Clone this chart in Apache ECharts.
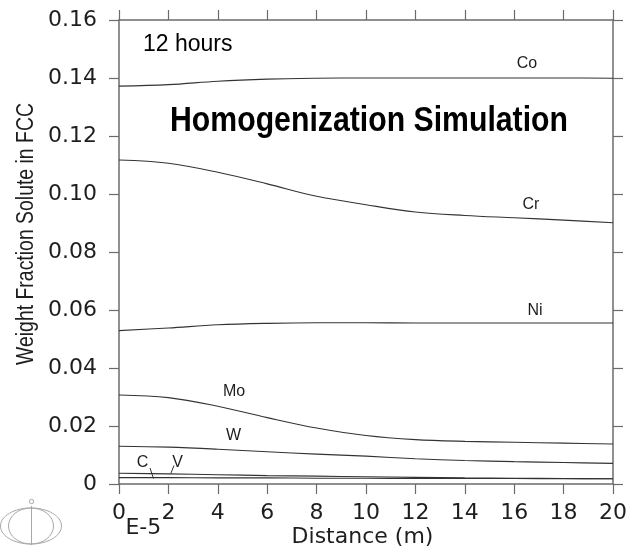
<!DOCTYPE html>
<html>
<head>
<meta charset="utf-8">
<script src="https://cdn.jsdelivr.net/npm/echarts@6/dist/echarts.min.js"></script>
<style>
  html, body { margin: 0; padding: 0; background: #fff; }
  #chart { width: 630px; height: 558px; }
</style>
</head>
<body>
<div id="chart"></div>
<script>
// Distance along the sample (units of 1e-5 m)
const distance = [0, 2, 4, 6, 8, 10, 12, 14, 16, 18, 20];

// Weight fraction of each solute in FCC after 12 hours
const co = [0.1372, 0.1377, 0.1389, 0.1396, 0.1399, 0.1400, 0.1400, 0.1400, 0.1400, 0.1400, 0.1399];
const cr = [0.1117, 0.1106, 0.1075, 0.1035, 0.0992, 0.0963, 0.0938, 0.0926, 0.0918, 0.0910, 0.0901];
const ni = [0.0529, 0.0538, 0.0549, 0.0554, 0.0556, 0.0556, 0.0555, 0.0555, 0.0555, 0.0555, 0.0555];
const mo = [0.0307, 0.0298, 0.0268, 0.0229, 0.0193, 0.0167, 0.0153, 0.0147, 0.0144, 0.0141, 0.0138];
const w  = [0.0130, 0.0127, 0.0120, 0.0111, 0.0103, 0.0096, 0.0087, 0.0081, 0.0077, 0.0074, 0.0071];
const v  = [0.0037, 0.0035, 0.0032, 0.0029, 0.0027, 0.0025, 0.0023, 0.0021, 0.0020, 0.0019, 0.0018];
const c  = [0.0022, 0.0022, 0.0021, 0.0021, 0.0020, 0.0020, 0.0019, 0.0019, 0.0019, 0.0018, 0.0018];

const elements = [
  { name: 'Co', values: co },
  { name: 'Cr', values: cr },
  { name: 'Ni', values: ni },
  { name: 'Mo', values: mo },
  { name: 'W',  values: w },
  { name: 'V',  values: v },
  { name: 'C',  values: c }
];

const axisColor = '#6b6b6b';
const textColor = '#1e1e1e';
const numFont = 'DejaVu Sans';
const sansFont = '"Liberation Sans", Arial, sans-serif';

// Horizontal squeeze factor so a string set in a regular sans face
// takes the width of a condensed face.
const measureCtx = document.createElement('canvas').getContext('2d');
function squeeze(text, font, targetWidth) {
  measureCtx.font = font;
  const wdt = measureCtx.measureText(text).width;
  return wdt > 0 ? Math.min(1, targetWidth / wdt) : 1;
}

function frameAxis(position, showLabels, extra) {
  return Object.assign({
    type: 'value',
    position: position,
    axisLine: { show: true, onZero: false, lineStyle: { color: axisColor, width: 1.5 } },
    axisTick: { show: true, inside: false, length: 10, lineStyle: { color: axisColor, width: 1.2 } },
    axisLabel: { show: showLabels, fontFamily: numFont, fontSize: 22, color: textColor },
    splitLine: { show: false }
  }, extra);
}

const chart = echarts.init(document.getElementById('chart'), null, { renderer: 'canvas' });

const elementLabel = (text, x, y) => ({
  type: 'text', x: x, y: y,
  style: { text: text, fontFamily: sansFont, fontSize: 16, fill: textColor, align: 'center', verticalAlign: 'middle' }
});

const titleText = 'Homogenization Simulation';
const titleScale = squeeze(titleText, 'bold 35px "Liberation Sans"', 398);
const yNameText = 'Weight Fraction Solute in FCC';
const yNameScale = squeeze(yNameText, '23.5px "Liberation Sans"', 262);

chart.setOption({
  backgroundColor: '#ffffff',
  animation: false,
  grid: { left: 119, right: 17, top: 20, bottom: 74, containLabel: false },
  xAxis: [
    frameAxis('bottom', true, { min: 0, max: 20, interval: 2,
      axisLabel: { show: true, fontFamily: numFont, fontSize: 22, color: textColor, margin: 18 } }),
    frameAxis('top', false, { min: 0, max: 20, interval: 2 })
  ],
  yAxis: [
    frameAxis('left', true, { min: 0, max: 0.16, interval: 0.02,
      axisLabel: { show: true, fontFamily: numFont, fontSize: 22, color: textColor, margin: 22,
        formatter: val => (val === 0 ? '0' : val.toFixed(2)) } }),
    frameAxis('right', false, { min: 0, max: 0.16, interval: 0.02 })
  ],
  series: elements.map(el => ({
    name: el.name,
    type: 'line',
    xAxisIndex: 0,
    yAxisIndex: 0,
    data: distance.map((d, i) => [d, el.values[i]]),
    showSymbol: false,
    smooth: 0.35,
    lineStyle: { color: '#333333', width: 1.1 },
    silent: true
  })),
  graphic: [
    { type: 'text', x: 369, y: 121, scaleX: titleScale,
      style: { text: titleText, fontFamily: sansFont, fontWeight: 'bold', fontSize: 35,
        fill: '#000', align: 'center', verticalAlign: 'middle' } },
    { type: 'text', x: 143, y: 45,
      style: { text: '12 hours', fontFamily: sansFont, fontSize: 23, fill: '#000', align: 'left', verticalAlign: 'middle' } },
    elementLabel('Co', 527, 64),
    elementLabel('Cr', 531, 205),
    elementLabel('Ni', 535, 310.5),
    elementLabel('Mo', 234, 391.5),
    elementLabel('W', 233.5, 436),
    elementLabel('C', 142.5, 462.5),
    elementLabel('V', 177.5, 462.5),
    { type: 'line', shape: { x1: 150, y1: 468, x2: 153.5, y2: 478.5 }, style: { stroke: '#333', lineWidth: 1 } },
    { type: 'line', shape: { x1: 174, y1: 465.5, x2: 170.8, y2: 473.5 }, style: { stroke: '#333', lineWidth: 1 } },
    { type: 'text', x: 26.5, y: 234, rotation: Math.PI / 2, scaleX: yNameScale,
      style: { text: yNameText, fontFamily: sansFont, fontSize: 23.5, fill: textColor,
        align: 'center', verticalAlign: 'middle' } },
    { type: 'text', x: 362.5, y: 537.5,
      style: { text: 'Distance (m)', fontFamily: numFont, fontSize: 22, fill: textColor, align: 'center', verticalAlign: 'middle' } },
    { type: 'text', x: 143.3, y: 528,
      style: { text: 'E-5', fontFamily: numFont, fontSize: 22, fill: textColor, align: 'center', verticalAlign: 'middle' } },
    // small globe emblem in the lower-left corner
    { type: 'group', children: [
      { type: 'ellipse', shape: { cx: 31, cy: 526, rx: 30.5, ry: 18 }, style: { fill: 'none', stroke: '#a8a8a8', lineWidth: 1 } },
      { type: 'ellipse', shape: { cx: 31, cy: 526, rx: 22.5, ry: 18 }, style: { fill: 'none', stroke: '#a8a8a8', lineWidth: 1 } },
      { type: 'line', shape: { x1: 31.5, y1: 506, x2: 31.5, y2: 545 }, style: { stroke: '#a8a8a8', lineWidth: 1 } },
      { type: 'circle', shape: { cx: 31.5, cy: 501.5, r: 2.2 }, style: { fill: 'none', stroke: '#a8a8a8', lineWidth: 1 } }
    ] }
  ]
});
</script>
</body>
</html>
